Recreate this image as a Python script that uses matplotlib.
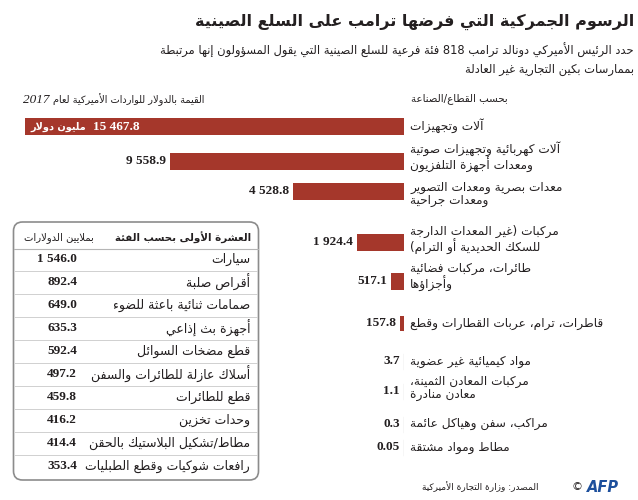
import re
import matplotlib
matplotlib.use("Agg")
import matplotlib.pyplot as plt
from matplotlib.patches import FancyBboxPatch

# ---------------- data ----------------
categories = [
    "آلات وتجهيزات",
    "آلات كهربائية وتجهيزات صوتية\nومعدات أجهزة التلفزيون",
    "معدات بصرية ومعدات التصوير\nومعدات جراحية",
    "مركبات (غير المعدات الدارجة\nللسكك الحديدية أو الترام)",
    "طائرات، مركبات فضائية\nوأجزاؤها",
    "قاطرات، ترام، عربات القطارات وقطع",
    "مواد كيميائية غير عضوية",
    "مركبات المعادن الثمينة،\nمعادن منادرة",
    "مراكب، سفن وهياكل عائمة",
    "مطاط ومواد مشتقة",
]
values = [15467.8, 9558.9, 4528.8, 1924.4, 517.1, 157.8, 3.7, 1.1, 0.3, 0.05]

top_items = [
    "سيارات",
    "أقراص صلبة",
    "صمامات ثنائية باعثة للضوء",
    "أجهزة بث إذاعي",
    "قطع مضخات السوائل",
    "أسلاك عازلة للطائرات والسفن",
    "قطع للطائرات",
    "وحدات تخزين",
    "مطاط/تشكيل البلاستيك بالحقن",
    "رافعات شوكيات وقطع الطبليات",
]
top_values = [1546.0, 892.4, 649.0, 635.3, 592.4, 497.2, 459.8, 416.2, 414.4, 353.4]

title = "الرسوم الجمركية التي فرضها ترامب على السلع الصينية"
subtitle = ["حدد الرئيس الأميركي دونالد ترامب 818 فئة فرعية للسلع الصينية التي يقول المسؤولون إنها مرتبطة",
            "بممارسات بكين التجارية غير العادلة"]
head_right = "بحسب القطاع/الصناعة"
head_left = "القيمة بالدولار للواردات الأميركية لعام"
head_year = "2017"
unit_label = "مليون دولار"
table_head = "العشرة الأولى بحسب الفئة"
table_unit = "بملايين الدولارات"
source = "المصدر: وزارة التجارة الأميركية"

# ---------------- minimal Arabic shaping + RTL ordering ----------------
FORMS = {}
def _dual(c, b): FORMS[c] = (b, b + 1, b + 2, b + 3)
def _right(c, b): FORMS[c] = (b, b + 1, None, None)
FORMS["\u0621"] = (0xFE80, None, None, None)
for c, b in [("\u0622", 0xFE81), ("\u0623", 0xFE83), ("\u0624", 0xFE85), ("\u0625", 0xFE87),
             ("\u0627", 0xFE8D), ("\u0629", 0xFE93), ("\u062F", 0xFEA9), ("\u0630", 0xFEAB),
             ("\u0631", 0xFEAD), ("\u0632", 0xFEAF), ("\u0648", 0xFEED), ("\u0649", 0xFEEF)]:
    _right(c, b)
for c, b in [("\u0626", 0xFE89), ("\u0628", 0xFE8F), ("\u062A", 0xFE95), ("\u062B", 0xFE99),
             ("\u062C", 0xFE9D), ("\u062D", 0xFEA1), ("\u062E", 0xFEA5), ("\u0633", 0xFEB1),
             ("\u0634", 0xFEB5), ("\u0635", 0xFEB9), ("\u0636", 0xFEBD), ("\u0637", 0xFEC1),
             ("\u0638", 0xFEC5), ("\u0639", 0xFEC9), ("\u063A", 0xFECD), ("\u0641", 0xFED1),
             ("\u0642", 0xFED5), ("\u0643", 0xFED9), ("\u0644", 0xFEDD), ("\u0645", 0xFEE1),
             ("\u0646", 0xFEE5), ("\u0647", 0xFEE9), ("\u064A", 0xFEF1)]:
    _dual(c, b)
LAMALEF = {"\u0622": 0xFEF5, "\u0623": 0xFEF7, "\u0625": 0xFEF9, "\u0627": 0xFEFB}


def shape(s):
    res, prev_dual, i, n = [], False, 0, len(s)
    while i < n:
        c = s[i]
        if c not in FORMS:
            res.append(c); prev_dual = False; i += 1; continue
        if c == "\u0644" and i + 1 < n and s[i + 1] in LAMALEF:
            b = LAMALEF[s[i + 1]]
            res.append(chr(b + 1 if prev_dual else b))
            prev_dual = False; i += 2; continue
        f = FORMS[c]
        nxt = s[i + 1] if i + 1 < n else None
        jp = prev_dual and f[1] is not None
        jn = f[2] is not None and nxt in FORMS and FORMS[nxt][1] is not None
        g = f[3] if (jp and jn) else f[1] if jp else f[2] if jn else f[0]
        res.append(chr(g))
        prev_dual = f[2] is not None
        i += 1
    return "".join(res)


MIRROR = str.maketrans("()", ")(")
LTR = re.compile(r"([0-9A-Za-z][0-9A-Za-z., ]*[0-9A-Za-z]|[0-9A-Za-z])")


def ar(text):
    lines = []
    for line in text.split("\n"):
        toks = LTR.split(shape(line))
        out = []
        for k, t in enumerate(reversed(toks)):
            idx = len(toks) - 1 - k
            out.append(t if idx % 2 == 1 else t[::-1].translate(MIRROR))
        lines.append("".join(out))
    return "\n".join(lines)


def fmt(v):
    return f"{v:,.1f}".replace(",", " ") if v >= 0.1 else f"{v:.2f}"

# ---------------- figure ----------------
W, H = 638, 500
fig = plt.figure(figsize=(W / 100, H / 100), dpi=100)
fig.patch.set_facecolor("white")
renderer = fig.canvas.get_renderer()
AR = ["DejaVu Sans"]
NUM = ["Liberation Serif", "DejaVu Serif"]
TXT = "#231f20"
BAR = "#a5372b"

bg = fig.add_axes([0, 0, 1, 1])
bg.set_xlim(0, W); bg.set_ylim(H, 0); bg.axis("off")

# bars axes: value scale horizontally, pixel rows vertically
X0, X1 = 25, 404
axb = fig.add_axes([X0 / W, 0, (X1 - X0) / W, 1])
axb.set_xlim(values[0], 0); axb.set_ylim(H, 0); axb.axis("off")
axb.patch.set_alpha(0)

row_y = [126.5, 161.5, 191.5, 242, 281, 323.5, 361, 391, 424, 447]
label_y = [126, 157, 194, 240, 277, 323, 361, 388, 424, 447]
bar_h = 17

# title and subtitle
bg.text(634, 22, ar(title), ha="right", va="center", fontsize=11.5, fontweight="bold", family=AR, color=TXT)
bg.text(634, 50, ar(subtitle[0]), ha="right", va="center", fontsize=8.3, family=AR, color=TXT)
bg.text(634, 70, ar(subtitle[1]), ha="right", va="center", fontsize=8.3, family=AR, color=TXT)

# column headers
bg.text(411, 99, ar(head_right), ha="left", va="center", fontsize=7.4, family=AR, color=TXT)
hl = bg.text(204, 100, ar(head_left), ha="right", va="center", fontsize=7.0, family=AR, color=TXT)
hx = hl.get_window_extent(renderer).x0
bg.text(hx - 3, 100, head_year, ha="right", va="center", fontsize=9.5, family=NUM, style="italic", color=TXT)

# bars
for i, (cat, v, y, ly) in enumerate(zip(categories, values, row_y, label_y)):
    axb.plot([0, 0], [y - bar_h / 2 + 1, y + bar_h / 2 - 1], color="#bdbdbd", lw=0.9, zorder=1)
    axb.barh(y, v, height=bar_h if v > 300 else 15, color=BAR, zorder=2)
    bg.text(410, ly, ar(cat), ha="left", va="center", fontsize=8.7, family=AR, color=TXT,
            multialignment="left", linespacing=1.05)
    if i == 0:
        fig.text(93, y, fmt(v), transform=bg.transData, ha="left", va="center", fontsize=9.5,
                 family=NUM, fontweight="bold", color="white")
        fig.text(86, y, ar(unit_label), transform=bg.transData, ha="right", va="center",
                 fontsize=7, family=AR, fontweight="bold", color="white")
    else:
        axb.annotate(fmt(v), (v, y), xytext=(-4, 0), textcoords="offset pixels",
                     ha="right", va="center", fontsize=9.5, family=NUM, fontweight="bold", color=TXT)

# table box
box = FancyBboxPatch((13.5, 222), 245, 258, boxstyle="round,pad=0,rounding_size=9",
                     fc="white", ec="#8c8c8c", lw=1.2, zorder=1)
bg.add_patch(box)
bg.text(251, 238, ar(table_head), ha="right", va="center", fontsize=7.4, fontweight="bold", family=AR, color=TXT)
bg.text(24, 238, ar(table_unit), ha="left", va="center", fontsize=7.2, family=AR, color=TXT)
bg.plot([14, 258], [248.5, 248.5], color="#b5b5b5", lw=0.8, zorder=2)
t0, pitch = 259, 23
for k, (item, v) in enumerate(zip(top_items, top_values)):
    y = t0 + k * pitch
    bg.text(250, y, ar(item), ha="right", va="center", fontsize=9, family=AR, color=TXT, zorder=3)
    bg.text(77, y, fmt(v), ha="right", va="center", fontsize=9.5, family=NUM, fontweight="bold",
            color=TXT, zorder=3)
    if k < len(top_items) - 1:
        bg.plot([15, 257], [y + pitch / 2, y + pitch / 2], color="#d0d0d0", lw=0.7, zorder=2)

# footer
bg.text(538, 487, ar(source), ha="right", va="center", fontsize=6.5, family=AR, color=TXT)
bg.text(577, 487, "\u00a9", ha="center", va="center", fontsize=8, family=AR, color=TXT)
bg.text(587, 487, "AFP", ha="left", va="center", fontsize=10.5, fontweight="bold", style="italic",
        family=["DejaVu Sans"], color="#1d4f9c")

fig.savefig("out.png", dpi=100, facecolor="white")
